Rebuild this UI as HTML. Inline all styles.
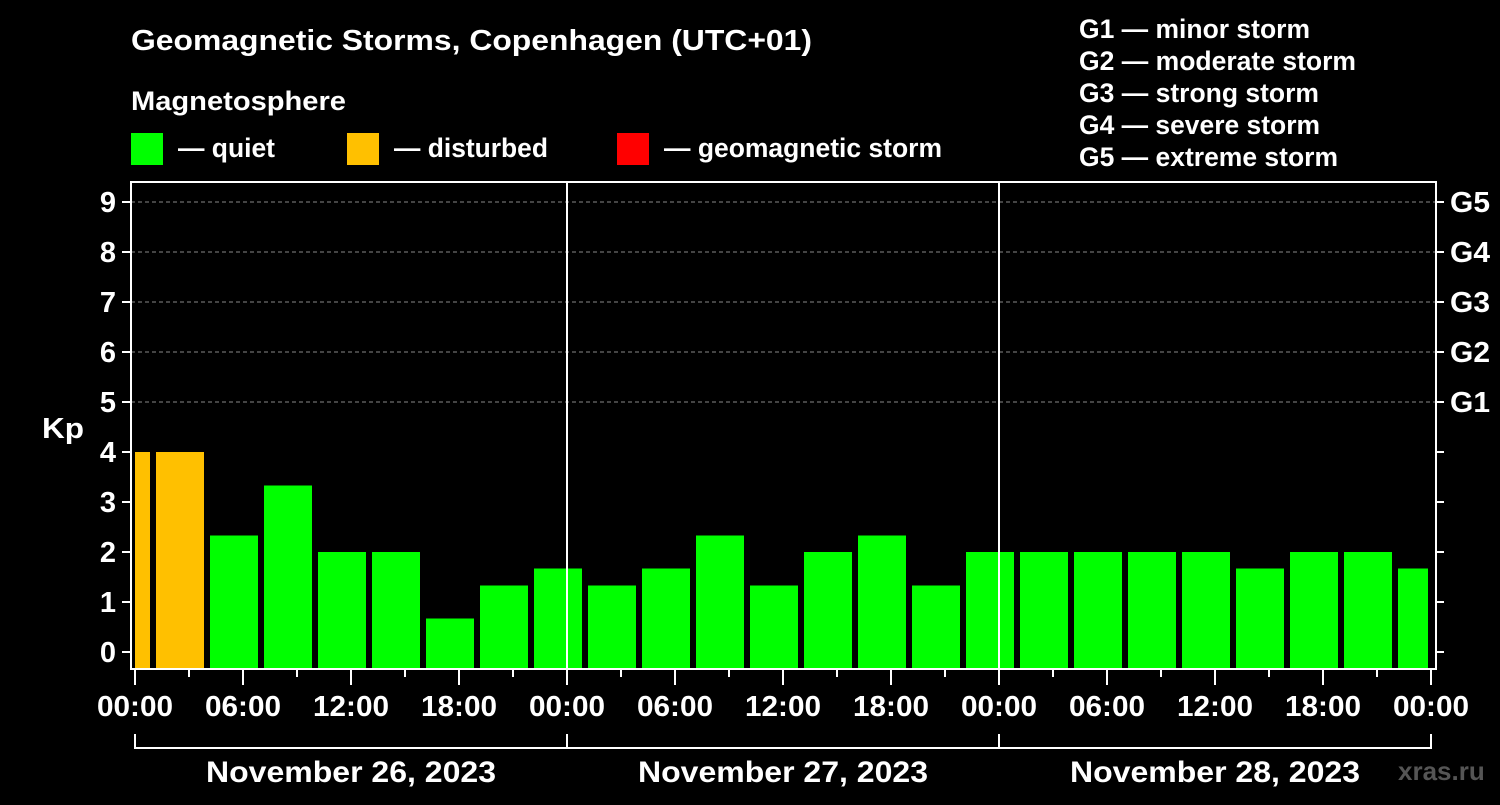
<!DOCTYPE html>
<html><head><meta charset="utf-8"><style>
html,body{margin:0;padding:0;background:#000;}
svg text{font-family:"Liberation Sans",sans-serif;font-weight:bold;fill:#fff;}
</style></head><body>
<svg id="chart" width="1500" height="800" xmlns="http://www.w3.org/2000/svg">
<rect width="1500" height="800" fill="#000"/>
<text x="131" y="50" font-size="29" textLength="681" lengthAdjust="spacingAndGlyphs">Geomagnetic Storms, Copenhagen (UTC+01)</text>
<text x="131" y="110" font-size="27" textLength="215" lengthAdjust="spacingAndGlyphs">Magnetosphere</text>
<rect x="131" y="133" width="32" height="32" fill="#00ff00"/>
<text x="178" y="157" font-size="27" textLength="97" lengthAdjust="spacingAndGlyphs">— quiet</text>
<rect x="347" y="133" width="32" height="32" fill="#ffc000"/>
<text x="394" y="157" font-size="27" textLength="154" lengthAdjust="spacingAndGlyphs">— disturbed</text>
<rect x="617" y="133" width="32" height="32" fill="#ff0000"/>
<text x="664" y="157" font-size="27" textLength="278" lengthAdjust="spacingAndGlyphs">— geomagnetic storm</text>
<g font-size="27">
<text x="1079" y="38" textLength="231" lengthAdjust="spacingAndGlyphs">G1 — minor storm</text>
<text x="1079" y="70" textLength="277" lengthAdjust="spacingAndGlyphs">G2 — moderate storm</text>
<text x="1079" y="102" textLength="240" lengthAdjust="spacingAndGlyphs">G3 — strong storm</text>
<text x="1079" y="134" textLength="241" lengthAdjust="spacingAndGlyphs">G4 — severe storm</text>
<text x="1079" y="166" textLength="259" lengthAdjust="spacingAndGlyphs">G5 — extreme storm</text>
</g>
<text x="42" y="438" font-size="29" textLength="42" lengthAdjust="spacingAndGlyphs">Kp</text>
<text x="1398" y="780" font-size="26" style="fill:#555">xras.ru</text>
<g id="grid"></g>
<g id="bars"></g>
<g id="axes"></g>
</svg>
<script>
const kpValues = [4, 4, 2.33, 3.33, 2, 2, 0.67, 1.33, 1.67, 1.33, 1.67, 2.33, 1.33, 2, 2.33, 1.33, 2, 2, 2, 2, 2, 1.67, 2, 2, 1.67];
const startHour = -2;
const stepHours = 3;
const dayLabels = ["November 26, 2023", "November 27, 2023", "November 28, 2023"];
const hourLabels = ["00:00","06:00","12:00","18:00"];
const gLabels = ["G1","G2","G3","G4","G5"];

const NS = "http://www.w3.org/2000/svg";
const X0 = 135, PX_H = 18, PL = 131, PR = 1436, PT = 182, PB = 669;
const xs = h => X0 + h * PX_H;
const ys = k => 652 - k * 50;
function mk(tag, attrs, parent, txt) {
  const e = document.createElementNS(NS, tag);
  for (const k in attrs) e.setAttribute(k, attrs[k]);
  if (txt !== undefined) e.textContent = txt;
  parent.appendChild(e); return e;
}
const grid = document.getElementById('grid'), bars = document.getElementById('bars'), axes = document.getElementById('axes');
for (let k = 5; k <= 9; k++) {
  const l = mk('line', {x1: PL, x2: PR, y1: ys(k), y2: ys(k), stroke: '#888', 'stroke-dasharray': '4,3', 'stroke-width': 1}, grid);
  
  
}
kpValues.forEach((v, i) => {
  const h0 = startHour + i * stepHours;
  let x1 = xs(h0) + 3, x2 = xs(h0 + stepHours) - 3;
  x1 = Math.max(x1, X0); x2 = Math.min(x2, 1428);
  const col = v >= 5 ? '#ff0000' : (v >= 4 ? '#ffc000' : '#00ff00');
  const r = mk('rect', {x: x1, y: ys(v), width: x2 - x1, height: PB - ys(v), fill: col}, bars);
  
  
});
const fr = mk('rect', {x: PL, y: PT, width: PR - PL, height: PB - PT, fill: 'none', stroke: '#fff', 'stroke-width': 2}, axes);


for (let d = 1; d < dayLabels.length; d++) {
  const l = mk('line', {x1: xs(24*d), x2: xs(24*d), y1: PT, y2: PB, stroke: '#fff', 'stroke-width': 2}, axes);
  
  
}
for (let k = 0; k <= 9; k++) {
  mk('line', {x1: 122, x2: PL, y1: ys(k), y2: ys(k), stroke: '#fff', 'stroke-width': 2}, axes);
  mk('line', {x1: PR, x2: PR + 8, y1: ys(k), y2: ys(k), stroke: '#fff', 'stroke-width': 2}, axes);
  const t = mk('text', {x: 116, y: ys(k) + 10, 'font-size': 29, 'text-anchor': 'end'}, axes, String(k));
  
  
}
gLabels.forEach((g, i) => {
  const t = mk('text', {x: 1450, y: ys(5 + i) + 10, 'font-size': 29, textLength: 40, lengthAdjust: 'spacingAndGlyphs'}, axes, g);
  
  
});
const totalH = dayLabels.length * 24;
for (let h = 0; h <= totalH; h += 3) {
  const major = h % 6 === 0;
  mk('line', {x1: xs(h), x2: xs(h), y1: PB, y2: major ? 685 : 677, stroke: '#fff', 'stroke-width': 2}, axes);
  if (major) {
    const t = mk('text', {x: xs(h), y: 716, 'font-size': 29, 'text-anchor': 'middle', textLength: 76, lengthAdjust: 'spacingAndGlyphs'}, axes, hourLabels[(h % 24) / 6]);
    
    
  }
}
mk('line', {x1: xs(0), x2: xs(totalH), y1: 748, y2: 748, stroke: '#fff', 'stroke-width': 2}, axes);
for (let d = 0; d <= dayLabels.length; d++) mk('line', {x1: xs(24*d), x2: xs(24*d), y1: 734, y2: 749, stroke: '#fff', 'stroke-width': 2}, axes);
dayLabels.forEach((s, d) => {
  const t = mk('text', {x: xs(24*d + 12), y: 782, 'font-size': 30, 'text-anchor': 'middle', textLength: 290, lengthAdjust: 'spacingAndGlyphs'}, axes, s);
  
  
});
</script>
</body></html>
